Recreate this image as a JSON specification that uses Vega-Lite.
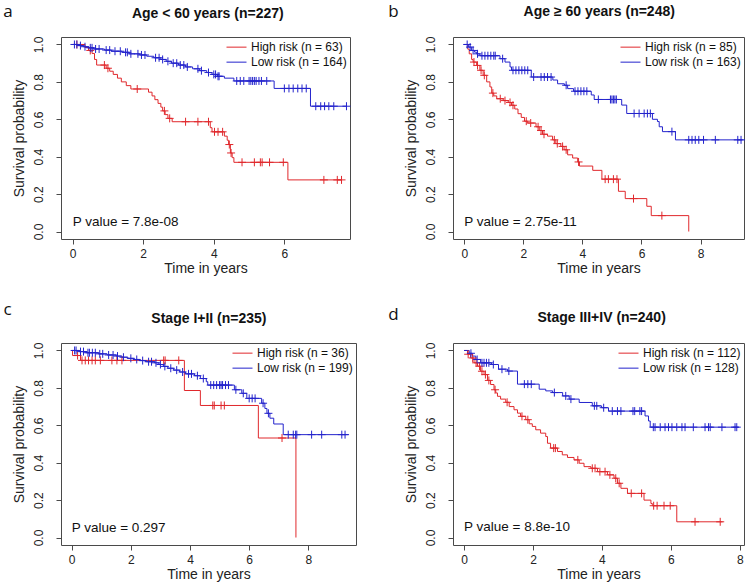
{
 "$schema": "https://vega.github.io/schema/vega-lite/v6.json",
 "background": "white",
 "padding": {"left": 2, "top": 2, "right": 4, "bottom": 2},
 "columns": 2,
 "spacing": {"row": 104, "column": 97},
 "bounds": "flush",
 "resolve": {"scale": {"color": "independent"}, "legend": {"color": "independent"}},
 "config": {
  "view": {"stroke": "#4a4a4a", "strokeWidth": 1},
  "font": "Liberation Sans",
  "axis": {"domain": false, "grid": false, "ticks": true, "tickColor": "#4a4a4a", "tickSize": 5, "labelFont": "Liberation Sans", "labelFontSize": 12, "labelColor": "#222222", "labelFlush": false, "labelOverlap": false, "titleFont": "Liberation Sans", "titleFontSize": 14, "titleFontWeight": "normal", "titleColor": "#222222"},
  "axisX": {"labelPadding": 4, "titlePadding": 2},
  "axisY": {"labelAngle": -90, "labelAlign": "center", "labelBaseline": "bottom", "labelPadding": 11, "titlePadding": 6},
  "legend": {"orient": "top-right", "symbolType": "stroke", "symbolSize": 400, "symbolStrokeWidth": 1, "labelFont": "Liberation Sans", "labelFontSize": 12, "labelColor": "#111111", "clipHeight": 14.3, "rowPadding": -2, "offset": 3, "padding": 0, "labelOffset": 4}
 },
 "datasets": {
  "a": [
   {"g":"H","t":0,"s":1,"c":0},{"g":"H","t":0.12,"s":1,"c":1},{"g":"H","t":0.35,"s":0.984,"c":0},{"g":"H","t":0.45,"s":0.968,"c":0},{"g":"H","t":0.5,"s":0.968,"c":1},{"g":"H","t":0.55,"s":0.952,"c":0},{"g":"H","t":0.62,"s":0.92,"c":0},{"g":"H","t":0.68,"s":0.89,"c":0},{"g":"H","t":0.9,"s":0.89,"c":1},{"g":"H","t":0.95,"s":0.873,"c":0},{"g":"H","t":1.0,"s":0.873,"c":1},{"g":"H","t":1.05,"s":0.857,"c":0},{"g":"H","t":1.15,"s":0.84,"c":0},{"g":"H","t":1.27,"s":0.82,"c":0},{"g":"H","t":1.38,"s":0.8,"c":0},{"g":"H","t":1.52,"s":0.78,"c":0},{"g":"H","t":1.65,"s":0.762,"c":0},{"g":"H","t":1.83,"s":0.762,"c":1},{"g":"H","t":2.15,"s":0.745,"c":0},{"g":"H","t":2.25,"s":0.725,"c":0},{"g":"H","t":2.33,"s":0.705,"c":0},{"g":"H","t":2.42,"s":0.685,"c":0},{"g":"H","t":2.5,"s":0.665,"c":0},{"g":"H","t":2.55,"s":0.645,"c":0},{"g":"H","t":2.6,"s":0.645,"c":1},{"g":"H","t":2.62,"s":0.625,"c":0},{"g":"H","t":2.7,"s":0.605,"c":0},{"g":"H","t":2.75,"s":0.605,"c":1},{"g":"H","t":2.82,"s":0.587,"c":0},{"g":"H","t":3.2,"s":0.587,"c":1},{"g":"H","t":3.55,"s":0.587,"c":1},{"g":"H","t":3.85,"s":0.587,"c":1},{"g":"H","t":3.9,"s":0.555,"c":0},{"g":"H","t":3.95,"s":0.533,"c":0},{"g":"H","t":4.02,"s":0.533,"c":1},{"g":"H","t":4.12,"s":0.533,"c":1},{"g":"H","t":4.25,"s":0.533,"c":1},{"g":"H","t":4.3,"s":0.51,"c":0},{"g":"H","t":4.38,"s":0.488,"c":0},{"g":"H","t":4.42,"s":0.465,"c":0},{"g":"H","t":4.44,"s":0.465,"c":1},{"g":"H","t":4.47,"s":0.42,"c":0},{"g":"H","t":4.49,"s":0.42,"c":1},{"g":"H","t":4.52,"s":0.395,"c":0},{"g":"H","t":4.57,"s":0.37,"c":0},{"g":"H","t":4.8,"s":0.37,"c":1},{"g":"H","t":5.15,"s":0.37,"c":1},{"g":"H","t":5.32,"s":0.37,"c":1},{"g":"H","t":5.37,"s":0.37,"c":1},{"g":"H","t":5.58,"s":0.37,"c":1},{"g":"H","t":5.97,"s":0.37,"c":1},{"g":"H","t":6.1,"s":0.276,"c":0},{"g":"H","t":7.12,"s":0.276,"c":1},{"g":"H","t":7.5,"s":0.276,"c":1},{"g":"H","t":7.62,"s":0.276,"c":1},
   {"g":"L","t":0,"s":1,"c":0},{"g":"L","t":0.05,"s":1,"c":1},{"g":"L","t":0.12,"s":1,"c":1},{"g":"L","t":0.15,"s":0.994,"c":0},{"g":"L","t":0.22,"s":0.994,"c":1},{"g":"L","t":0.3,"s":0.988,"c":0},{"g":"L","t":0.35,"s":0.988,"c":1},{"g":"L","t":0.45,"s":0.982,"c":0},{"g":"L","t":0.5,"s":0.982,"c":1},{"g":"L","t":0.55,"s":0.982,"c":1},{"g":"L","t":0.6,"s":0.976,"c":0},{"g":"L","t":0.65,"s":0.976,"c":1},{"g":"L","t":0.75,"s":0.976,"c":1},{"g":"L","t":0.9,"s":0.97,"c":0},{"g":"L","t":0.95,"s":0.97,"c":1},{"g":"L","t":1.05,"s":0.97,"c":1},{"g":"L","t":1.1,"s":0.964,"c":0},{"g":"L","t":1.2,"s":0.964,"c":1},{"g":"L","t":1.35,"s":0.964,"c":1},{"g":"L","t":1.4,"s":0.958,"c":0},{"g":"L","t":1.5,"s":0.958,"c":1},{"g":"L","t":1.55,"s":0.958,"c":1},{"g":"L","t":1.6,"s":0.95,"c":0},{"g":"L","t":1.65,"s":0.95,"c":1},{"g":"L","t":1.85,"s":0.95,"c":1},{"g":"L","t":1.9,"s":0.944,"c":0},{"g":"L","t":1.95,"s":0.944,"c":1},{"g":"L","t":2.05,"s":0.944,"c":1},{"g":"L","t":2.1,"s":0.937,"c":0},{"g":"L","t":2.3,"s":0.929,"c":0},{"g":"L","t":2.35,"s":0.929,"c":1},{"g":"L","t":2.45,"s":0.929,"c":1},{"g":"L","t":2.5,"s":0.92,"c":0},{"g":"L","t":2.55,"s":0.92,"c":1},{"g":"L","t":2.65,"s":0.91,"c":0},{"g":"L","t":2.7,"s":0.91,"c":1},{"g":"L","t":2.8,"s":0.9,"c":0},{"g":"L","t":2.85,"s":0.9,"c":1},{"g":"L","t":2.95,"s":0.9,"c":1},{"g":"L","t":3.0,"s":0.89,"c":0},{"g":"L","t":3.05,"s":0.89,"c":1},{"g":"L","t":3.15,"s":0.89,"c":1},{"g":"L","t":3.2,"s":0.88,"c":0},{"g":"L","t":3.25,"s":0.88,"c":1},{"g":"L","t":3.4,"s":0.87,"c":0},{"g":"L","t":3.55,"s":0.87,"c":1},{"g":"L","t":3.6,"s":0.86,"c":0},{"g":"L","t":3.65,"s":0.86,"c":1},{"g":"L","t":3.8,"s":0.85,"c":0},{"g":"L","t":3.85,"s":0.85,"c":1},{"g":"L","t":3.95,"s":0.84,"c":0},{"g":"L","t":4.0,"s":0.84,"c":1},{"g":"L","t":4.05,"s":0.84,"c":1},{"g":"L","t":4.1,"s":0.83,"c":0},{"g":"L","t":4.12,"s":0.83,"c":1},{"g":"L","t":4.15,"s":0.83,"c":1},{"g":"L","t":4.3,"s":0.82,"c":0},{"g":"L","t":4.57,"s":0.805,"c":0},{"g":"L","t":4.65,"s":0.805,"c":1},{"g":"L","t":4.75,"s":0.805,"c":1},{"g":"L","t":4.85,"s":0.805,"c":1},{"g":"L","t":5.0,"s":0.805,"c":1},{"g":"L","t":5.05,"s":0.805,"c":1},{"g":"L","t":5.1,"s":0.805,"c":1},{"g":"L","t":5.15,"s":0.805,"c":1},{"g":"L","t":5.2,"s":0.805,"c":1},{"g":"L","t":5.28,"s":0.805,"c":1},{"g":"L","t":5.35,"s":0.805,"c":1},{"g":"L","t":5.5,"s":0.805,"c":1},{"g":"L","t":5.71,"s":0.765,"c":0},{"g":"L","t":6.0,"s":0.765,"c":1},{"g":"L","t":6.13,"s":0.765,"c":1},{"g":"L","t":6.25,"s":0.765,"c":1},{"g":"L","t":6.38,"s":0.765,"c":1},{"g":"L","t":6.5,"s":0.765,"c":1},{"g":"L","t":6.62,"s":0.765,"c":1},{"g":"L","t":6.74,"s":0.67,"c":0},{"g":"L","t":6.89,"s":0.67,"c":1},{"g":"L","t":7.03,"s":0.67,"c":1},{"g":"L","t":7.14,"s":0.67,"c":1},{"g":"L","t":7.26,"s":0.67,"c":1},{"g":"L","t":7.4,"s":0.67,"c":1},{"g":"L","t":7.76,"s":0.67,"c":1}
  ],
  "b": [
   {"g":"H","t":0,"s":1,"c":0},{"g":"H","t":0.12,"s":0.975,"c":0},{"g":"H","t":0.17,"s":0.95,"c":0},{"g":"H","t":0.25,"s":0.92,"c":0},{"g":"H","t":0.3,"s":0.906,"c":0},{"g":"H","t":0.33,"s":0.906,"c":1},{"g":"H","t":0.42,"s":0.888,"c":0},{"g":"H","t":0.45,"s":0.888,"c":1},{"g":"H","t":0.53,"s":0.862,"c":0},{"g":"H","t":0.57,"s":0.862,"c":1},{"g":"H","t":0.64,"s":0.835,"c":0},{"g":"H","t":0.68,"s":0.835,"c":1},{"g":"H","t":0.76,"s":0.8,"c":0},{"g":"H","t":0.87,"s":0.773,"c":0},{"g":"H","t":0.93,"s":0.74,"c":0},{"g":"H","t":0.97,"s":0.74,"c":1},{"g":"H","t":1.0,"s":0.725,"c":0},{"g":"H","t":1.1,"s":0.71,"c":0},{"g":"H","t":1.22,"s":0.71,"c":1},{"g":"H","t":1.32,"s":0.7,"c":0},{"g":"H","t":1.38,"s":0.7,"c":1},{"g":"H","t":1.49,"s":0.69,"c":0},{"g":"H","t":1.55,"s":0.69,"c":1},{"g":"H","t":1.6,"s":0.675,"c":0},{"g":"H","t":1.65,"s":0.675,"c":1},{"g":"H","t":1.71,"s":0.655,"c":0},{"g":"H","t":1.82,"s":0.63,"c":0},{"g":"H","t":1.93,"s":0.61,"c":0},{"g":"H","t":2.04,"s":0.59,"c":0},{"g":"H","t":2.1,"s":0.59,"c":1},{"g":"H","t":2.15,"s":0.58,"c":0},{"g":"H","t":2.25,"s":0.58,"c":1},{"g":"H","t":2.43,"s":0.56,"c":0},{"g":"H","t":2.5,"s":0.56,"c":1},{"g":"H","t":2.54,"s":0.54,"c":0},{"g":"H","t":2.6,"s":0.54,"c":1},{"g":"H","t":2.65,"s":0.52,"c":0},{"g":"H","t":2.7,"s":0.52,"c":1},{"g":"H","t":2.82,"s":0.51,"c":0},{"g":"H","t":2.99,"s":0.49,"c":0},{"g":"H","t":3.05,"s":0.49,"c":1},{"g":"H","t":3.1,"s":0.47,"c":0},{"g":"H","t":3.15,"s":0.47,"c":1},{"g":"H","t":3.27,"s":0.455,"c":0},{"g":"H","t":3.33,"s":0.455,"c":1},{"g":"H","t":3.38,"s":0.437,"c":0},{"g":"H","t":3.45,"s":0.437,"c":1},{"g":"H","t":3.5,"s":0.41,"c":0},{"g":"H","t":3.67,"s":0.393,"c":0},{"g":"H","t":3.84,"s":0.372,"c":0},{"g":"H","t":3.87,"s":0.372,"c":1},{"g":"H","t":3.9,"s":0.35,"c":0},{"g":"H","t":4.35,"s":0.327,"c":0},{"g":"H","t":4.66,"s":0.28,"c":0},{"g":"H","t":4.77,"s":0.28,"c":1},{"g":"H","t":4.88,"s":0.28,"c":1},{"g":"H","t":5.05,"s":0.28,"c":1},{"g":"H","t":5.17,"s":0.28,"c":1},{"g":"H","t":5.22,"s":0.215,"c":0},{"g":"H","t":5.45,"s":0.176,"c":0},{"g":"H","t":5.73,"s":0.176,"c":1},{"g":"H","t":6.18,"s":0.135,"c":0},{"g":"H","t":6.33,"s":0.085,"c":0},{"g":"H","t":6.69,"s":0.085,"c":1},{"g":"H","t":7.6,"s":0,"c":0},
   {"g":"L","t":0,"s":1,"c":0},{"g":"L","t":0.1,"s":1,"c":1},{"g":"L","t":0.15,"s":0.986,"c":0},{"g":"L","t":0.2,"s":0.986,"c":1},{"g":"L","t":0.25,"s":0.968,"c":0},{"g":"L","t":0.3,"s":0.968,"c":1},{"g":"L","t":0.35,"s":0.959,"c":0},{"g":"L","t":0.42,"s":0.95,"c":0},{"g":"L","t":0.45,"s":0.95,"c":1},{"g":"L","t":0.53,"s":0.94,"c":0},{"g":"L","t":0.6,"s":0.94,"c":1},{"g":"L","t":0.7,"s":0.94,"c":1},{"g":"L","t":0.8,"s":0.94,"c":1},{"g":"L","t":0.9,"s":0.94,"c":1},{"g":"L","t":1.0,"s":0.94,"c":1},{"g":"L","t":1.05,"s":0.94,"c":1},{"g":"L","t":1.21,"s":0.924,"c":0},{"g":"L","t":1.3,"s":0.924,"c":1},{"g":"L","t":1.38,"s":0.906,"c":0},{"g":"L","t":1.55,"s":0.88,"c":0},{"g":"L","t":1.6,"s":0.862,"c":0},{"g":"L","t":1.65,"s":0.862,"c":1},{"g":"L","t":1.75,"s":0.862,"c":1},{"g":"L","t":1.85,"s":0.862,"c":1},{"g":"L","t":1.95,"s":0.862,"c":1},{"g":"L","t":2.05,"s":0.862,"c":1},{"g":"L","t":2.15,"s":0.862,"c":1},{"g":"L","t":2.27,"s":0.826,"c":0},{"g":"L","t":2.35,"s":0.826,"c":1},{"g":"L","t":2.6,"s":0.826,"c":1},{"g":"L","t":2.71,"s":0.826,"c":1},{"g":"L","t":2.82,"s":0.826,"c":1},{"g":"L","t":2.94,"s":0.826,"c":1},{"g":"L","t":3.0,"s":0.81,"c":0},{"g":"L","t":3.16,"s":0.79,"c":0},{"g":"L","t":3.39,"s":0.782,"c":0},{"g":"L","t":3.45,"s":0.782,"c":1},{"g":"L","t":3.5,"s":0.764,"c":0},{"g":"L","t":3.7,"s":0.75,"c":0},{"g":"L","t":3.75,"s":0.75,"c":1},{"g":"L","t":3.85,"s":0.75,"c":1},{"g":"L","t":3.95,"s":0.75,"c":1},{"g":"L","t":4.05,"s":0.75,"c":1},{"g":"L","t":4.15,"s":0.75,"c":1},{"g":"L","t":4.3,"s":0.73,"c":0},{"g":"L","t":4.4,"s":0.706,"c":0},{"g":"L","t":4.54,"s":0.706,"c":1},{"g":"L","t":4.95,"s":0.706,"c":1},{"g":"L","t":5.0,"s":0.706,"c":1},{"g":"L","t":5.05,"s":0.706,"c":1},{"g":"L","t":5.1,"s":0.706,"c":1},{"g":"L","t":5.15,"s":0.706,"c":1},{"g":"L","t":5.33,"s":0.676,"c":0},{"g":"L","t":5.5,"s":0.631,"c":0},{"g":"L","t":5.75,"s":0.631,"c":1},{"g":"L","t":5.92,"s":0.631,"c":1},{"g":"L","t":6.09,"s":0.631,"c":1},{"g":"L","t":6.2,"s":0.631,"c":1},{"g":"L","t":6.3,"s":0.631,"c":1},{"g":"L","t":6.37,"s":0.6,"c":0},{"g":"L","t":6.54,"s":0.588,"c":0},{"g":"L","t":6.6,"s":0.56,"c":0},{"g":"L","t":6.71,"s":0.534,"c":0},{"g":"L","t":7.03,"s":0.534,"c":1},{"g":"L","t":7.15,"s":0.49,"c":0},{"g":"L","t":7.6,"s":0.49,"c":1},{"g":"L","t":7.71,"s":0.49,"c":1},{"g":"L","t":7.82,"s":0.49,"c":1},{"g":"L","t":7.94,"s":0.49,"c":1},{"g":"L","t":8.1,"s":0.49,"c":1},{"g":"L","t":8.5,"s":0.49,"c":1},{"g":"L","t":9.26,"s":0.49,"c":1},{"g":"L","t":9.37,"s":0.49,"c":1},{"g":"L","t":9.45,"s":0.49,"c":0}
  ],
  "c": [
   {"g":"H","t":0,"s":1,"c":0},{"g":"H","t":0.03,"s":0.973,"c":0},{"g":"H","t":0.2,"s":0.973,"c":1},{"g":"H","t":0.3,"s":0.947,"c":0},{"g":"H","t":0.35,"s":0.947,"c":1},{"g":"H","t":0.46,"s":0.947,"c":1},{"g":"H","t":0.57,"s":0.947,"c":1},{"g":"H","t":0.69,"s":0.947,"c":1},{"g":"H","t":0.8,"s":0.947,"c":1},{"g":"H","t":0.97,"s":0.947,"c":1},{"g":"H","t":1.36,"s":0.947,"c":1},{"g":"H","t":1.53,"s":0.947,"c":1},{"g":"H","t":1.7,"s":0.947,"c":1},{"g":"H","t":3.11,"s":0.947,"c":1},{"g":"H","t":3.16,"s":0.947,"c":1},{"g":"H","t":3.62,"s":0.947,"c":1},{"g":"H","t":3.81,"s":0.786,"c":0},{"g":"H","t":4.35,"s":0.706,"c":0},{"g":"H","t":4.77,"s":0.706,"c":1},{"g":"H","t":4.82,"s":0.706,"c":1},{"g":"H","t":5.05,"s":0.706,"c":1},{"g":"H","t":5.16,"s":0.706,"c":1},{"g":"H","t":6.31,"s":0.532,"c":0},{"g":"H","t":7.11,"s":0.532,"c":1},{"g":"H","t":7.58,"s":0,"c":0},
   {"g":"L","t":0,"s":1,"c":0},{"g":"L","t":0.1,"s":1,"c":1},{"g":"L","t":0.15,"s":1,"c":1},{"g":"L","t":0.25,"s":0.994,"c":0},{"g":"L","t":0.3,"s":0.994,"c":1},{"g":"L","t":0.4,"s":0.994,"c":1},{"g":"L","t":0.5,"s":0.988,"c":0},{"g":"L","t":0.55,"s":0.988,"c":1},{"g":"L","t":0.6,"s":0.988,"c":1},{"g":"L","t":0.7,"s":0.988,"c":1},{"g":"L","t":0.8,"s":0.988,"c":1},{"g":"L","t":0.9,"s":0.982,"c":0},{"g":"L","t":0.95,"s":0.982,"c":1},{"g":"L","t":1.05,"s":0.982,"c":1},{"g":"L","t":1.2,"s":0.976,"c":0},{"g":"L","t":1.25,"s":0.976,"c":1},{"g":"L","t":1.4,"s":0.976,"c":1},{"g":"L","t":1.5,"s":0.97,"c":0},{"g":"L","t":1.55,"s":0.97,"c":1},{"g":"L","t":1.7,"s":0.964,"c":0},{"g":"L","t":1.75,"s":0.964,"c":1},{"g":"L","t":1.9,"s":0.958,"c":0},{"g":"L","t":2.0,"s":0.958,"c":1},{"g":"L","t":2.1,"s":0.952,"c":0},{"g":"L","t":2.2,"s":0.952,"c":1},{"g":"L","t":2.3,"s":0.946,"c":0},{"g":"L","t":2.4,"s":0.946,"c":1},{"g":"L","t":2.5,"s":0.94,"c":0},{"g":"L","t":2.6,"s":0.94,"c":1},{"g":"L","t":2.7,"s":0.94,"c":1},{"g":"L","t":2.8,"s":0.934,"c":0},{"g":"L","t":2.85,"s":0.934,"c":1},{"g":"L","t":2.95,"s":0.925,"c":0},{"g":"L","t":3.0,"s":0.925,"c":1},{"g":"L","t":3.1,"s":0.915,"c":0},{"g":"L","t":3.15,"s":0.915,"c":1},{"g":"L","t":3.25,"s":0.905,"c":0},{"g":"L","t":3.35,"s":0.905,"c":1},{"g":"L","t":3.45,"s":0.895,"c":0},{"g":"L","t":3.55,"s":0.895,"c":1},{"g":"L","t":3.65,"s":0.885,"c":0},{"g":"L","t":3.75,"s":0.885,"c":1},{"g":"L","t":3.85,"s":0.875,"c":0},{"g":"L","t":3.95,"s":0.875,"c":1},{"g":"L","t":4.05,"s":0.875,"c":1},{"g":"L","t":4.15,"s":0.865,"c":0},{"g":"L","t":4.25,"s":0.865,"c":1},{"g":"L","t":4.35,"s":0.85,"c":0},{"g":"L","t":4.45,"s":0.85,"c":1},{"g":"L","t":4.55,"s":0.833,"c":0},{"g":"L","t":4.6,"s":0.815,"c":0},{"g":"L","t":4.7,"s":0.815,"c":1},{"g":"L","t":4.8,"s":0.815,"c":1},{"g":"L","t":4.9,"s":0.815,"c":1},{"g":"L","t":5.0,"s":0.815,"c":1},{"g":"L","t":5.05,"s":0.815,"c":1},{"g":"L","t":5.1,"s":0.815,"c":1},{"g":"L","t":5.2,"s":0.815,"c":1},{"g":"L","t":5.3,"s":0.815,"c":1},{"g":"L","t":5.5,"s":0.79,"c":0},{"g":"L","t":5.55,"s":0.79,"c":1},{"g":"L","t":5.75,"s":0.771,"c":0},{"g":"L","t":5.8,"s":0.771,"c":1},{"g":"L","t":5.92,"s":0.744,"c":0},{"g":"L","t":6.0,"s":0.744,"c":1},{"g":"L","t":6.1,"s":0.744,"c":1},{"g":"L","t":6.2,"s":0.744,"c":1},{"g":"L","t":6.42,"s":0.718,"c":0},{"g":"L","t":6.47,"s":0.718,"c":1},{"g":"L","t":6.53,"s":0.69,"c":0},{"g":"L","t":6.6,"s":0.664,"c":0},{"g":"L","t":6.65,"s":0.664,"c":1},{"g":"L","t":6.7,"s":0.638,"c":0},{"g":"L","t":6.83,"s":0.607,"c":0},{"g":"L","t":7.15,"s":0.55,"c":0},{"g":"L","t":7.32,"s":0.55,"c":1},{"g":"L","t":7.49,"s":0.55,"c":1},{"g":"L","t":7.57,"s":0.55,"c":1},{"g":"L","t":7.61,"s":0.55,"c":1},{"g":"L","t":8.11,"s":0.55,"c":1},{"g":"L","t":8.45,"s":0.55,"c":1},{"g":"L","t":9.13,"s":0.55,"c":1},{"g":"L","t":9.24,"s":0.55,"c":1},{"g":"L","t":9.35,"s":0.55,"c":0}
  ],
  "d": [
   {"g":"H","t":0,"s":1,"c":0},{"g":"H","t":0.1,"s":0.98,"c":0},{"g":"H","t":0.12,"s":0.98,"c":1},{"g":"H","t":0.19,"s":0.96,"c":0},{"g":"H","t":0.25,"s":0.96,"c":1},{"g":"H","t":0.29,"s":0.934,"c":0},{"g":"H","t":0.35,"s":0.934,"c":1},{"g":"H","t":0.39,"s":0.916,"c":0},{"g":"H","t":0.45,"s":0.916,"c":1},{"g":"H","t":0.48,"s":0.889,"c":0},{"g":"H","t":0.52,"s":0.889,"c":1},{"g":"H","t":0.58,"s":0.871,"c":0},{"g":"H","t":0.62,"s":0.871,"c":1},{"g":"H","t":0.68,"s":0.84,"c":0},{"g":"H","t":0.72,"s":0.84,"c":1},{"g":"H","t":0.77,"s":0.818,"c":0},{"g":"H","t":0.87,"s":0.79,"c":0},{"g":"H","t":0.9,"s":0.79,"c":1},{"g":"H","t":0.92,"s":0.773,"c":0},{"g":"H","t":0.97,"s":0.755,"c":0},{"g":"H","t":1.06,"s":0.74,"c":0},{"g":"H","t":1.21,"s":0.723,"c":0},{"g":"H","t":1.25,"s":0.723,"c":1},{"g":"H","t":1.31,"s":0.7,"c":0},{"g":"H","t":1.45,"s":0.683,"c":0},{"g":"H","t":1.55,"s":0.665,"c":0},{"g":"H","t":1.64,"s":0.648,"c":0},{"g":"H","t":1.68,"s":0.648,"c":1},{"g":"H","t":1.79,"s":0.63,"c":0},{"g":"H","t":1.85,"s":0.63,"c":1},{"g":"H","t":1.89,"s":0.608,"c":0},{"g":"H","t":1.98,"s":0.594,"c":0},{"g":"H","t":2.08,"s":0.576,"c":0},{"g":"H","t":2.22,"s":0.558,"c":0},{"g":"H","t":2.37,"s":0.54,"c":0},{"g":"H","t":2.42,"s":0.504,"c":0},{"g":"H","t":2.51,"s":0.478,"c":0},{"g":"H","t":2.6,"s":0.478,"c":1},{"g":"H","t":2.65,"s":0.478,"c":1},{"g":"H","t":2.71,"s":0.46,"c":0},{"g":"H","t":2.85,"s":0.442,"c":0},{"g":"H","t":3.0,"s":0.428,"c":0},{"g":"H","t":3.19,"s":0.415,"c":0},{"g":"H","t":3.3,"s":0.415,"c":1},{"g":"H","t":3.34,"s":0.397,"c":0},{"g":"H","t":3.48,"s":0.379,"c":0},{"g":"H","t":3.68,"s":0.37,"c":0},{"g":"H","t":3.72,"s":0.37,"c":1},{"g":"H","t":3.8,"s":0.37,"c":1},{"g":"H","t":3.87,"s":0.352,"c":0},{"g":"H","t":3.94,"s":0.352,"c":1},{"g":"H","t":4.09,"s":0.352,"c":1},{"g":"H","t":4.16,"s":0.335,"c":0},{"g":"H","t":4.23,"s":0.335,"c":1},{"g":"H","t":4.35,"s":0.317,"c":0},{"g":"H","t":4.4,"s":0.317,"c":1},{"g":"H","t":4.45,"s":0.29,"c":0},{"g":"H","t":4.5,"s":0.29,"c":1},{"g":"H","t":4.55,"s":0.263,"c":0},{"g":"H","t":4.74,"s":0.236,"c":0},{"g":"H","t":4.85,"s":0.236,"c":1},{"g":"H","t":5.15,"s":0.236,"c":1},{"g":"H","t":5.22,"s":0.2,"c":0},{"g":"H","t":5.42,"s":0.182,"c":0},{"g":"H","t":5.46,"s":0.17,"c":0},{"g":"H","t":5.5,"s":0.17,"c":1},{"g":"H","t":5.6,"s":0.17,"c":1},{"g":"H","t":5.8,"s":0.17,"c":1},{"g":"H","t":5.98,"s":0.17,"c":1},{"g":"H","t":6.17,"s":0.084,"c":0},{"g":"H","t":6.7,"s":0.084,"c":1},{"g":"H","t":7.43,"s":0.084,"c":1},{"g":"H","t":7.5,"s":0.084,"c":0},
   {"g":"L","t":0,"s":1,"c":0},{"g":"L","t":0.15,"s":0.985,"c":0},{"g":"L","t":0.2,"s":0.985,"c":1},{"g":"L","t":0.24,"s":0.97,"c":0},{"g":"L","t":0.34,"s":0.952,"c":0},{"g":"L","t":0.38,"s":0.952,"c":1},{"g":"L","t":0.48,"s":0.934,"c":0},{"g":"L","t":0.52,"s":0.934,"c":1},{"g":"L","t":0.58,"s":0.934,"c":1},{"g":"L","t":0.65,"s":0.934,"c":1},{"g":"L","t":0.72,"s":0.934,"c":1},{"g":"L","t":0.8,"s":0.925,"c":0},{"g":"L","t":0.85,"s":0.925,"c":1},{"g":"L","t":1.0,"s":0.9,"c":0},{"g":"L","t":1.1,"s":0.9,"c":1},{"g":"L","t":1.26,"s":0.89,"c":0},{"g":"L","t":1.3,"s":0.89,"c":1},{"g":"L","t":1.55,"s":0.82,"c":0},{"g":"L","t":1.75,"s":0.82,"c":1},{"g":"L","t":1.85,"s":0.82,"c":1},{"g":"L","t":1.95,"s":0.82,"c":1},{"g":"L","t":2.18,"s":0.793,"c":0},{"g":"L","t":2.37,"s":0.784,"c":0},{"g":"L","t":2.57,"s":0.775,"c":0},{"g":"L","t":2.62,"s":0.775,"c":1},{"g":"L","t":2.86,"s":0.757,"c":0},{"g":"L","t":2.95,"s":0.757,"c":1},{"g":"L","t":3.05,"s":0.74,"c":0},{"g":"L","t":3.1,"s":0.74,"c":1},{"g":"L","t":3.34,"s":0.722,"c":0},{"g":"L","t":3.72,"s":0.704,"c":0},{"g":"L","t":3.78,"s":0.704,"c":1},{"g":"L","t":3.85,"s":0.704,"c":1},{"g":"L","t":3.99,"s":0.694,"c":0},{"g":"L","t":4.05,"s":0.694,"c":1},{"g":"L","t":4.19,"s":0.676,"c":0},{"g":"L","t":4.3,"s":0.676,"c":1},{"g":"L","t":4.45,"s":0.676,"c":1},{"g":"L","t":4.55,"s":0.676,"c":1},{"g":"L","t":4.9,"s":0.676,"c":1},{"g":"L","t":4.95,"s":0.676,"c":1},{"g":"L","t":5.1,"s":0.676,"c":1},{"g":"L","t":5.15,"s":0.676,"c":1},{"g":"L","t":5.25,"s":0.65,"c":0},{"g":"L","t":5.35,"s":0.623,"c":0},{"g":"L","t":5.4,"s":0.59,"c":0},{"g":"L","t":5.49,"s":0.59,"c":1},{"g":"L","t":5.54,"s":0.59,"c":1},{"g":"L","t":5.69,"s":0.59,"c":1},{"g":"L","t":5.83,"s":0.59,"c":1},{"g":"L","t":5.93,"s":0.59,"c":1},{"g":"L","t":6.03,"s":0.59,"c":1},{"g":"L","t":6.17,"s":0.59,"c":1},{"g":"L","t":6.32,"s":0.59,"c":1},{"g":"L","t":6.41,"s":0.59,"c":1},{"g":"L","t":6.65,"s":0.59,"c":1},{"g":"L","t":6.99,"s":0.59,"c":1},{"g":"L","t":7.09,"s":0.59,"c":1},{"g":"L","t":7.14,"s":0.59,"c":1},{"g":"L","t":7.48,"s":0.59,"c":1},{"g":"L","t":7.86,"s":0.59,"c":1},{"g":"L","t":7.91,"s":0.59,"c":1},{"g":"L","t":7.96,"s":0.59,"c":0}
  ]
 },
 "concat": [
  {
   "width": 289, "height": 202,
   "layer": [
    {"data": {"name": "a"}, "mark": {"type": "line", "interpolate": "step-after", "strokeWidth": 1},
     "encoding": {
      "x": {"field": "t", "type": "quantitative", "scale": {"domain": [-0.33, 7.86], "nice": false, "zero": false}, "axis": {"title": "Time in years", "values": [0, 2, 4, 6]}},
      "y": {"field": "s", "type": "quantitative", "scale": {"domain": [-0.04, 1.04], "nice": false, "zero": false}, "axis": {"title": "Survival probability", "values": [0, 0.2, 0.4, 0.6, 0.8, 1], "format": ".1f"}},
      "color": {"field": "g", "type": "nominal", "scale": {"domain": ["H", "L"], "range": ["#e0282c", "#2323cc"]}, "legend": {"title": null, "labelExpr": "datum.label == 'H' ? 'High risk (n = 63)' : 'Low risk (n = 164)'"}}
     }},
    {"data": {"name": "a"}, "transform": [{"filter": "datum.c == 1"}], "mark": {"type": "point", "shape": "M-1,0H1M0,-1V1", "size": 64, "filled": false, "strokeWidth": 1, "opacity": 1},
     "encoding": {
      "x": {"field": "t", "type": "quantitative", "scale": {"domain": [-0.33, 7.86], "nice": false, "zero": false}, "axis": {"title": "Time in years", "values": [0, 2, 4, 6]}},
      "y": {"field": "s", "type": "quantitative", "scale": {"domain": [-0.04, 1.04], "nice": false, "zero": false}, "axis": {"title": "Survival probability", "values": [0, 0.2, 0.4, 0.6, 0.8, 1], "format": ".1f"}},
      "color": {"field": "g", "type": "nominal", "scale": {"domain": ["H", "L"], "range": ["#e0282c", "#2323cc"]}, "legend": null}
     }},
    {"data": {"values": [{}]}, "mark": {"type": "text", "align": "left", "baseline": "alphabetic", "font": "Liberation Sans", "fontSize": 13.5, "color": "#111111"},
     "encoding": {
      "x": {"datum": 0, "type": "quantitative", "scale": {"domain": [-0.33, 7.86], "nice": false, "zero": false}, "axis": {"title": "Time in years", "values": [0, 2, 4, 6]}},
      "y": {"datum": 0.03, "type": "quantitative", "scale": {"domain": [-0.04, 1.04], "nice": false, "zero": false}, "axis": {"title": "Survival probability", "values": [0, 0.2, 0.4, 0.6, 0.8, 1], "format": ".1f"}},
      "text": {"value": "P value = 7.8e-08"}}},
    {"data": {"values": [{}]}, "mark": {"type": "text", "align": "center", "baseline": "alphabetic", "font": "Liberation Sans", "fontSize": 14, "fontWeight": "bold", "color": "#111111"},
     "encoding": {
      "x": {"datum": 3.83, "type": "quantitative", "scale": {"domain": [-0.33, 7.86], "nice": false, "zero": false}, "axis": {"title": "Time in years", "values": [0, 2, 4, 6]}},
      "y": {"datum": 1.139, "type": "quantitative", "scale": {"domain": [-0.04, 1.04], "nice": false, "zero": false}, "axis": {"title": "Survival probability", "values": [0, 0.2, 0.4, 0.6, 0.8, 1], "format": ".1f"}},
      "text": {"value": "Age < 60 years (n=227)"}}},
    {"data": {"values": [{}]}, "mark": {"type": "text", "align": "left", "baseline": "alphabetic", "font": "Open Sans", "fontSize": 17, "color": "#111111"},
     "encoding": {
      "x": {"datum": -1.97, "type": "quantitative", "scale": {"domain": [-0.33, 7.86], "nice": false, "zero": false}, "axis": {"title": "Time in years", "values": [0, 2, 4, 6]}},
      "y": {"datum": 1.147, "type": "quantitative", "scale": {"domain": [-0.04, 1.04], "nice": false, "zero": false}, "axis": {"title": "Survival probability", "values": [0, 0.2, 0.4, 0.6, 0.8, 1], "format": ".1f"}},
      "text": {"value": "a"}}}
   ]
  },
  {
   "width": 291, "height": 202,
   "layer": [
    {"data": {"name": "b"}, "mark": {"type": "line", "interpolate": "step-after", "strokeWidth": 1},
     "encoding": {
      "x": {"field": "t", "type": "quantitative", "scale": {"domain": [-0.38, 9.47], "nice": false, "zero": false}, "axis": {"title": "Time in years", "values": [0, 2, 4, 6, 8]}},
      "y": {"field": "s", "type": "quantitative", "scale": {"domain": [-0.04, 1.04], "nice": false, "zero": false}, "axis": {"title": "Survival probability", "values": [0, 0.2, 0.4, 0.6, 0.8, 1], "format": ".1f"}},
      "color": {"field": "g", "type": "nominal", "scale": {"domain": ["H", "L"], "range": ["#e0282c", "#2323cc"]}, "legend": {"title": null, "labelExpr": "datum.label == 'H' ? 'High risk (n = 85)' : 'Low risk (n = 163)'"}}
     }},
    {"data": {"name": "b"}, "transform": [{"filter": "datum.c == 1"}], "mark": {"type": "point", "shape": "M-1,0H1M0,-1V1", "size": 64, "filled": false, "strokeWidth": 1, "opacity": 1},
     "encoding": {
      "x": {"field": "t", "type": "quantitative", "scale": {"domain": [-0.38, 9.47], "nice": false, "zero": false}, "axis": {"title": "Time in years", "values": [0, 2, 4, 6, 8]}},
      "y": {"field": "s", "type": "quantitative", "scale": {"domain": [-0.04, 1.04], "nice": false, "zero": false}, "axis": {"title": "Survival probability", "values": [0, 0.2, 0.4, 0.6, 0.8, 1], "format": ".1f"}},
      "color": {"field": "g", "type": "nominal", "scale": {"domain": ["H", "L"], "range": ["#e0282c", "#2323cc"]}, "legend": null}
     }},
    {"data": {"values": [{}]}, "mark": {"type": "text", "align": "left", "baseline": "alphabetic", "font": "Liberation Sans", "fontSize": 13.5, "color": "#111111"},
     "encoding": {
      "x": {"datum": 0, "type": "quantitative", "scale": {"domain": [-0.38, 9.47], "nice": false, "zero": false}, "axis": {"title": "Time in years", "values": [0, 2, 4, 6, 8]}},
      "y": {"datum": 0.03, "type": "quantitative", "scale": {"domain": [-0.04, 1.04], "nice": false, "zero": false}, "axis": {"title": "Survival probability", "values": [0, 0.2, 0.4, 0.6, 0.8, 1], "format": ".1f"}},
      "text": {"value": "P value = 2.75e-11"}}},
    {"data": {"values": [{}]}, "mark": {"type": "text", "align": "center", "baseline": "alphabetic", "font": "Liberation Sans", "fontSize": 14, "fontWeight": "bold", "color": "#111111"},
     "encoding": {
      "x": {"datum": 4.57, "type": "quantitative", "scale": {"domain": [-0.38, 9.47], "nice": false, "zero": false}, "axis": {"title": "Time in years", "values": [0, 2, 4, 6, 8]}},
      "y": {"datum": 1.15, "type": "quantitative", "scale": {"domain": [-0.04, 1.04], "nice": false, "zero": false}, "axis": {"title": "Survival probability", "values": [0, 0.2, 0.4, 0.6, 0.8, 1], "format": ".1f"}},
      "text": {"value": "Age ≥ 60 years (n=248)"}}},
    {"data": {"values": [{}]}, "mark": {"type": "text", "align": "left", "baseline": "alphabetic", "font": "Open Sans", "fontSize": 17, "color": "#111111"},
     "encoding": {
      "x": {"datum": -2.57, "type": "quantitative", "scale": {"domain": [-0.38, 9.47], "nice": false, "zero": false}, "axis": {"title": "Time in years", "values": [0, 2, 4, 6, 8]}},
      "y": {"datum": 1.145, "type": "quantitative", "scale": {"domain": [-0.04, 1.04], "nice": false, "zero": false}, "axis": {"title": "Survival probability", "values": [0, 0.2, 0.4, 0.6, 0.8, 1], "format": ".1f"}},
      "text": {"value": "b"}}}
   ]
  },
  {
   "width": 295, "height": 202,
   "layer": [
    {"data": {"name": "c"}, "mark": {"type": "line", "interpolate": "step-after", "strokeWidth": 1},
     "encoding": {
      "x": {"field": "t", "type": "quantitative", "scale": {"domain": [-0.36, 9.61], "nice": false, "zero": false}, "axis": {"title": "Time in years", "values": [0, 2, 4, 6, 8]}},
      "y": {"field": "s", "type": "quantitative", "scale": {"domain": [-0.04, 1.04], "nice": false, "zero": false}, "axis": {"title": "Survival probability", "values": [0, 0.2, 0.4, 0.6, 0.8, 1], "format": ".1f"}},
      "color": {"field": "g", "type": "nominal", "scale": {"domain": ["H", "L"], "range": ["#e0282c", "#2323cc"]}, "legend": {"title": null, "labelExpr": "datum.label == 'H' ? 'High risk (n = 36)' : 'Low risk (n = 199)'"}}
     }},
    {"data": {"name": "c"}, "transform": [{"filter": "datum.c == 1"}], "mark": {"type": "point", "shape": "M-1,0H1M0,-1V1", "size": 64, "filled": false, "strokeWidth": 1, "opacity": 1},
     "encoding": {
      "x": {"field": "t", "type": "quantitative", "scale": {"domain": [-0.36, 9.61], "nice": false, "zero": false}, "axis": {"title": "Time in years", "values": [0, 2, 4, 6, 8]}},
      "y": {"field": "s", "type": "quantitative", "scale": {"domain": [-0.04, 1.04], "nice": false, "zero": false}, "axis": {"title": "Survival probability", "values": [0, 0.2, 0.4, 0.6, 0.8, 1], "format": ".1f"}},
      "color": {"field": "g", "type": "nominal", "scale": {"domain": ["H", "L"], "range": ["#e0282c", "#2323cc"]}, "legend": null}
     }},
    {"data": {"values": [{}]}, "mark": {"type": "text", "align": "left", "baseline": "alphabetic", "font": "Liberation Sans", "fontSize": 13.5, "color": "#111111"},
     "encoding": {
      "x": {"datum": 0, "type": "quantitative", "scale": {"domain": [-0.36, 9.61], "nice": false, "zero": false}, "axis": {"title": "Time in years", "values": [0, 2, 4, 6, 8]}},
      "y": {"datum": 0.03, "type": "quantitative", "scale": {"domain": [-0.04, 1.04], "nice": false, "zero": false}, "axis": {"title": "Survival probability", "values": [0, 0.2, 0.4, 0.6, 0.8, 1], "format": ".1f"}},
      "text": {"value": "P value = 0.297"}}},
    {"data": {"values": [{}]}, "mark": {"type": "text", "align": "center", "baseline": "alphabetic", "font": "Liberation Sans", "fontSize": 14, "fontWeight": "bold", "color": "#111111"},
     "encoding": {
      "x": {"datum": 4.64, "type": "quantitative", "scale": {"domain": [-0.36, 9.61], "nice": false, "zero": false}, "axis": {"title": "Time in years", "values": [0, 2, 4, 6, 8]}},
      "y": {"datum": 1.147, "type": "quantitative", "scale": {"domain": [-0.04, 1.04], "nice": false, "zero": false}, "axis": {"title": "Survival probability", "values": [0, 0.2, 0.4, 0.6, 0.8, 1], "format": ".1f"}},
      "text": {"value": "Stage I+II (n=235)"}}},
    {"data": {"values": [{}]}, "mark": {"type": "text", "align": "left", "baseline": "alphabetic", "font": "Open Sans", "fontSize": 17, "color": "#111111"},
     "encoding": {
      "x": {"datum": -2.3, "type": "quantitative", "scale": {"domain": [-0.36, 9.61], "nice": false, "zero": false}, "axis": {"title": "Time in years", "values": [0, 2, 4, 6, 8]}},
      "y": {"datum": 1.188, "type": "quantitative", "scale": {"domain": [-0.04, 1.04], "nice": false, "zero": false}, "axis": {"title": "Survival probability", "values": [0, 0.2, 0.4, 0.6, 0.8, 1], "format": ".1f"}},
      "text": {"value": "c"}}}
   ]
  },
  {
   "width": 291, "height": 202,
   "layer": [
    {"data": {"name": "d"}, "mark": {"type": "line", "interpolate": "step-after", "strokeWidth": 1},
     "encoding": {
      "x": {"field": "t", "type": "quantitative", "scale": {"domain": [-0.32, 8.12], "nice": false, "zero": false}, "axis": {"title": "Time in years", "values": [0, 2, 4, 6, 8]}},
      "y": {"field": "s", "type": "quantitative", "scale": {"domain": [-0.04, 1.04], "nice": false, "zero": false}, "axis": {"title": "Survival probability", "values": [0, 0.2, 0.4, 0.6, 0.8, 1], "format": ".1f"}},
      "color": {"field": "g", "type": "nominal", "scale": {"domain": ["H", "L"], "range": ["#e0282c", "#2323cc"]}, "legend": {"title": null, "labelExpr": "datum.label == 'H' ? 'High risk (n = 112)' : 'Low risk (n = 128)'"}}
     }},
    {"data": {"name": "d"}, "transform": [{"filter": "datum.c == 1"}], "mark": {"type": "point", "shape": "M-1,0H1M0,-1V1", "size": 64, "filled": false, "strokeWidth": 1, "opacity": 1},
     "encoding": {
      "x": {"field": "t", "type": "quantitative", "scale": {"domain": [-0.32, 8.12], "nice": false, "zero": false}, "axis": {"title": "Time in years", "values": [0, 2, 4, 6, 8]}},
      "y": {"field": "s", "type": "quantitative", "scale": {"domain": [-0.04, 1.04], "nice": false, "zero": false}, "axis": {"title": "Survival probability", "values": [0, 0.2, 0.4, 0.6, 0.8, 1], "format": ".1f"}},
      "color": {"field": "g", "type": "nominal", "scale": {"domain": ["H", "L"], "range": ["#e0282c", "#2323cc"]}, "legend": null}
     }},
    {"data": {"values": [{}]}, "mark": {"type": "text", "align": "left", "baseline": "alphabetic", "font": "Liberation Sans", "fontSize": 13.5, "color": "#111111"},
     "encoding": {
      "x": {"datum": 0, "type": "quantitative", "scale": {"domain": [-0.32, 8.12], "nice": false, "zero": false}, "axis": {"title": "Time in years", "values": [0, 2, 4, 6, 8]}},
      "y": {"datum": 0.035, "type": "quantitative", "scale": {"domain": [-0.04, 1.04], "nice": false, "zero": false}, "axis": {"title": "Survival probability", "values": [0, 0.2, 0.4, 0.6, 0.8, 1], "format": ".1f"}},
      "text": {"value": "P value = 8.8e-10"}}},
    {"data": {"values": [{}]}, "mark": {"type": "text", "align": "center", "baseline": "alphabetic", "font": "Liberation Sans", "fontSize": 14, "fontWeight": "bold", "color": "#111111"},
     "encoding": {
      "x": {"datum": 3.99, "type": "quantitative", "scale": {"domain": [-0.32, 8.12], "nice": false, "zero": false}, "axis": {"title": "Time in years", "values": [0, 2, 4, 6, 8]}},
      "y": {"datum": 1.152, "type": "quantitative", "scale": {"domain": [-0.04, 1.04], "nice": false, "zero": false}, "axis": {"title": "Survival probability", "values": [0, 0.2, 0.4, 0.6, 0.8, 1], "format": ".1f"}},
      "text": {"value": "Stage III+IV (n=240)"}}},
    {"data": {"values": [{}]}, "mark": {"type": "text", "align": "left", "baseline": "alphabetic", "font": "Open Sans", "fontSize": 17, "color": "#111111"},
     "encoding": {
      "x": {"datum": -2.2, "type": "quantitative", "scale": {"domain": [-0.32, 8.12], "nice": false, "zero": false}, "axis": {"title": "Time in years", "values": [0, 2, 4, 6, 8]}},
      "y": {"datum": 1.163, "type": "quantitative", "scale": {"domain": [-0.04, 1.04], "nice": false, "zero": false}, "axis": {"title": "Survival probability", "values": [0, 0.2, 0.4, 0.6, 0.8, 1], "format": ".1f"}},
      "text": {"value": "d"}}}
   ]
  }
 ]
}
